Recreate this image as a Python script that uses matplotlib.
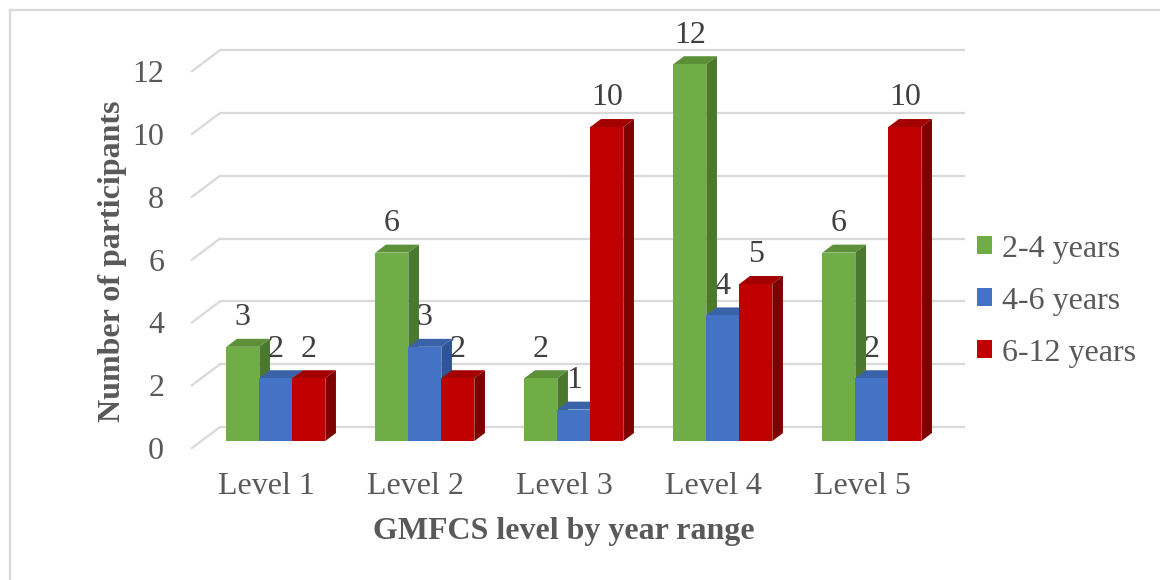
import matplotlib
matplotlib.use("Agg")
import matplotlib.pyplot as plt
from matplotlib.patches import Rectangle, Polygon, Patch
from matplotlib.lines import Line2D

# ---- data ----
categories = ["Level 1", "Level 2", "Level 3", "Level 4", "Level 5"]
series_names = ["2-4 years", "4-6 years", "6-12 years"]
vals_2_4 = [3, 6, 2, 12, 6]
vals_4_6 = [2, 3, 1, 4, 2]
vals_6_12 = [2, 2, 10, 5, 10]
yticks = [0, 2, 4, 6, 8, 10, 12]

series = [vals_2_4, vals_4_6, vals_6_12]
front_cols = ["#70AD47", "#4472C4", "#C00000"]
top_cols = ["#5C913A", "#3A62A8", "#A30000"]
side_cols = ["#4A782C", "#2F5597", "#7F0000"]
txt = "#595959"
fs = 23

plt.rcParams['font.family'] = ['Liberation Serif', 'DejaVu Serif']

W, H = 1160, 580
fig = plt.figure(figsize=(W / 100, H / 100), dpi=100)
# axes: front floor plane, x from -0.5..4.5 at px 192..937, y=0 at px 448
px_per_unit = 31.4
ytop = 14
left, right = 192, 937
ax = fig.add_axes([left / W, (H - 448) / H, (right - left) / W, ytop * px_per_unit / H])
ax.set_xlim(-0.5, len(categories) - 0.5)
ax.set_ylim(0, ytop)
for s in ax.spines.values():
    s.set_visible(False)

# depth vector (full floor depth) in data units
dX = 28 / 149
dY = 21 / px_per_unit
f0 = 0.333   # bar front depth fraction
fd = 0.38    # bar depth fraction

# back wall gridlines + left wall diagonals
grid_c = "#D9D9D9"
n = len(categories)
for v in yticks:
    ax.plot([-0.5 + dX, n - 0.5 + dX], [v + dY, v + dY], color=grid_c, lw=1.6,
            zorder=1, clip_on=False, solid_capstyle='butt')
    ax.plot([-0.5, -0.5 + dX], [v, v + dY], color=grid_c, lw=1.6, zorder=1,
            clip_on=False)

# bars
w = 33 / 149
ddx, ddy = fd * dX, fd * dY
z = 2
for i in range(n):
    for k, vals in enumerate(series):
        v = vals[i]
        x0 = i - 1.5 * w + k * w + f0 * dX
        y0 = f0 * dY
        front = Rectangle((x0, y0), w, v, facecolor=front_cols[k], edgecolor='none',
                          zorder=z + 0.2, clip_on=False)
        top = Polygon([(x0, y0 + v), (x0 + w, y0 + v), (x0 + w + ddx, y0 + v + ddy),
                       (x0 + ddx, y0 + v + ddy)], closed=True,
                      facecolor=top_cols[k], edgecolor='none', zorder=z, clip_on=False)
        side = Polygon([(x0 + w, y0), (x0 + w, y0 + v), (x0 + w + ddx, y0 + v + ddy),
                        (x0 + w + ddx, y0 + ddy)], closed=True,
                       facecolor=side_cols[k], edgecolor='none', zorder=z, clip_on=False)
        ax.add_patch(top)
        ax.add_patch(side)
        ax.add_patch(front)
        ax.annotate(str(v), xy=(x0 + w / 2, y0 + v), xytext=(0, 21),
                    textcoords='offset points', ha='center', va='center',
                    fontsize=fs, color="#404040", zorder=10, annotation_clip=False)
        z += 1

ax.set_yticks(yticks)
ax.set_yticklabels([str(t) for t in yticks])
ax.set_xticks(range(n))
ax.set_xticklabels(categories)
ax.tick_params(axis='y', length=0, pad=20, labelsize=fs, labelcolor=txt)
ax.tick_params(axis='x', length=0, pad=17, labelsize=fs, labelcolor=txt)

# axis titles
fig.text(564 / W, 1 - 531 / H, "GMFCS level by year range", ha='center', va='center',
         fontsize=fs, fontweight='bold', color=txt)
fig.text(113 / W, 1 - 261 / H, "Number of participants", ha='center', va='center',
         rotation=90, fontsize=fs, fontweight='bold', color=txt)

# legend
handles = [Patch(facecolor=c, edgecolor='none') for c in front_cols]
fig.legend(handles, series_names, loc='center left',
           bbox_to_anchor=(977 / W, 1 - 301 / H), frameon=False, fontsize=fs,
           handlelength=0.47, handleheight=0.47, handletextpad=0.3, labelspacing=0.72,
           borderpad=0, borderaxespad=0, labelcolor=txt)

# chart border (top and left visible)
bc = "#D9D9D9"
fig.add_artist(Line2D([10 / W, 1.0], [1 - 10 / H, 1 - 10 / H], color=bc, lw=1.6,
                      transform=fig.transFigure))
fig.add_artist(Line2D([10 / W, 10 / W], [0, 1 - 10 / H], color=bc, lw=1.6,
                      transform=fig.transFigure))

fig.savefig("out.png", dpi=100, facecolor='white')
